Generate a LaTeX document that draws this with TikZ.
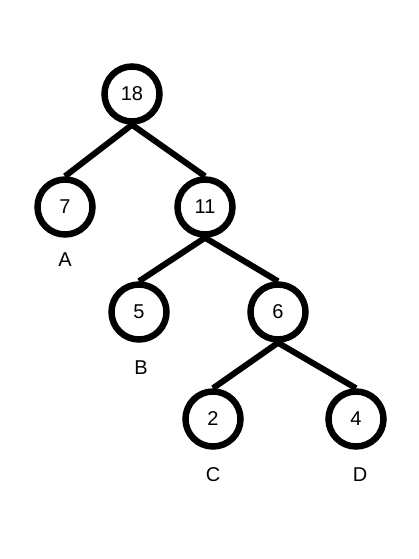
\documentclass[tikz,border=0pt]{standalone}
\usepackage{fontspec}
\setmainfont{Liberation Sans}
\begin{document}
\begin{tikzpicture}[x=1pt,y=-1pt,
  tnode/.style={circle,draw=black,line width=6.5pt,fill=white,minimum size=55pt,inner sep=0pt,font=\fontsize{20}{22}\selectfont},
  lbl/.style={font=\fontsize{20}{22}\selectfont},
  edge/.style={line width=6pt}]
\useasboundingbox[fill=white] (0,0) rectangle (419,559);
\node[tnode] (n18) at (132,94) {18};
\node[tnode] (n7) at (65,207) {7};
\node[tnode] (n11) at (205,207) {11};
\node[tnode] (n5) at (139,312) {5};
\node[tnode] (n6) at (278,312) {6};
\node[tnode] (n2) at (213,419) {2};
\node[tnode] (n4) at (356,419) {4};
\draw[edge] (n18.south) -- (n7.north);
\draw[edge] (n18.south) -- (n11.north);
\draw[edge] (n11.south) -- (n5.north);
\draw[edge] (n11.south) -- (n6.north);
\draw[edge] (n6.south) -- (n2.north);
\draw[edge] (n6.south) -- (n4.north);
\node[lbl] (lA) at (65,260) {A};
\node[lbl] (lB) at (141,368) {B};
\node[lbl] (lC) at (213,475) {C};
\node[lbl] (lD) at (360,475) {D};
\end{tikzpicture}
\end{document}
